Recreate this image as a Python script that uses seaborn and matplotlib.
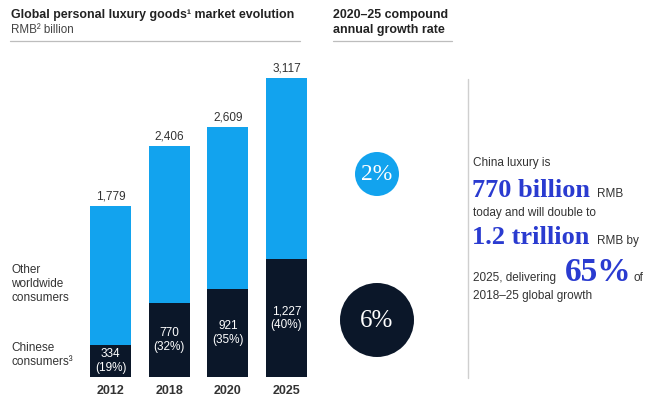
import matplotlib
matplotlib.use("Agg")
import matplotlib.pyplot as plt
from matplotlib.patches import Circle
import seaborn as sns
import pandas as pd

# Market size by year (RMB billion)
years = ["2012", "2018", "2020", "2025"]
total_market = [1779, 2406, 2609, 3117]
chinese_consumers = [334, 770, 921, 1227]
chinese_share = [19, 32, 35, 40]
total_labels = ["1,779", "2,406", "2,609", "3,117"]
chinese_labels = ["334", "770", "921", "1,227"]
cagr_labels = ["2%", "6%"]

LIGHT = "#12a3ee"
NAVY = "#0b1729"
ACCENT = "#2a3bd0"
TXT = "#333333"

sns.set_theme(style="white")
plt.rcParams["font.family"] = ["Liberation Sans", "DejaVu Sans"]

W, H = 655, 398
fig = plt.figure(figsize=(W / 100, H / 100), dpi=100)
fig.patch.set_facecolor("white")


def px_axes(x0, x1, y_top, y_bot):
    return [x0 / W, 1 - y_bot / H, (x1 - x0) / W, (y_bot - y_top) / H]


# Stacked bars: total market with the Chinese share drawn over it
ax = fig.add_axes(px_axes(80, 317, 377 - 326, 377))
df = pd.DataFrame({"year": years, "total": total_market, "china": chinese_consumers})
sns.barplot(data=df, x="year", y="total", color=LIGHT, width=0.7,
            saturation=1, ax=ax, edgecolor="none")
sns.barplot(data=df, x="year", y="china", color=NAVY, width=0.7,
            saturation=1, ax=ax, edgecolor="none")
ax.set_xlim(-0.52, 3.52)
ax.set_ylim(0, 3400)
ax.set_xlabel("")
ax.set_ylabel("")
ax.set_yticks([])
ax.tick_params(axis="x", length=0, pad=6, labelsize=9, labelcolor=TXT)
for lbl in ax.get_xticklabels():
    lbl.set_fontweight("semibold")
sns.despine(ax=ax, left=True, bottom=True)

for i in range(len(years)):
    ax.text(i, total_market[i] + 40, total_labels[i], ha="center", va="bottom",
            fontsize=8.5, color=TXT)
    ax.text(i, chinese_consumers[i] / 2, f"{chinese_labels[i]}\n({chinese_share[i]}%)",
            ha="center", va="center", fontsize=8.5, color="white", linespacing=1.15)

# Overlay in pixel coordinates for headers, circles and commentary
ov = fig.add_axes([0, 0, 1, 1], facecolor="none")
ov.set_xlim(0, W)
ov.set_ylim(H, 0)
ov.axis("off")

ov.text(11, 18, "Global personal luxury goods\u00b9 market evolution", fontsize=8.9,
        fontweight="bold", color="#222222", va="baseline")
ov.text(11, 33, "RMB\u00b2 billion", fontsize=8.4, color="#444444", va="baseline")
ov.plot([10, 300], [41, 41], color="#bdbdbd", lw=0.9)
ov.text(333, 18, "2020\u201325 compound", fontsize=8.9, fontweight="bold",
        color="#222222", va="baseline")
ov.text(333, 33, "annual growth rate", fontsize=8.9, fontweight="bold",
        color="#222222", va="baseline")
ov.plot([333, 452], [41, 41], color="#bdbdbd", lw=0.9)

ov.text(11, 284, "Other\nworldwide\nconsumers", fontsize=8.5, color=TXT,
        va="center", linespacing=1.2)
ov.text(11, 355, "Chinese\nconsumers\u00b3", fontsize=8.5, color=TXT,
        va="center", linespacing=1.2)

serif = ["Liberation Serif", "DejaVu Serif"]
ov.add_patch(Circle((377, 174), 22, color=LIGHT, lw=0))
ov.text(377, 175, cagr_labels[0], ha="center", va="center", fontsize=17,
        color="white", family=serif)
ov.add_patch(Circle((377, 320), 37, color=NAVY, lw=0))
ov.text(377, 321, cagr_labels[1], ha="center", va="center", fontsize=18,
        color="white", family=serif)

ov.plot([468, 468], [79, 378], color="#cfcfcf", lw=1)

ov.text(473, 166, "China luxury is", fontsize=8.5, color=TXT, va="baseline")
ov.text(472, 197, "770 billion", fontsize=19, fontweight="bold", color=ACCENT,
        family=serif, va="baseline")
ov.text(597, 197, "RMB", fontsize=8.5, color=TXT, va="baseline")
ov.text(473, 216, "today and will double to", fontsize=8.5, color=TXT, va="baseline")
ov.text(472, 244, "1.2 trillion", fontsize=19, fontweight="bold", color=ACCENT,
        family=serif, va="baseline")
ov.text(597, 244, "RMB by", fontsize=8.5, color=TXT, va="baseline")
ov.text(473, 281, "2025, delivering", fontsize=8.5, color=TXT, va="baseline")
ov.text(565, 281, "65%", fontsize=24, fontweight="bold", color=ACCENT,
        family=serif, va="baseline")
ov.text(633, 281, "of", fontsize=8.5, color=TXT, va="baseline")
ov.text(473, 299, "2018\u201325 global growth", fontsize=8.5, color=TXT, va="baseline")

fig.savefig("out.png", dpi=100, facecolor="white")
